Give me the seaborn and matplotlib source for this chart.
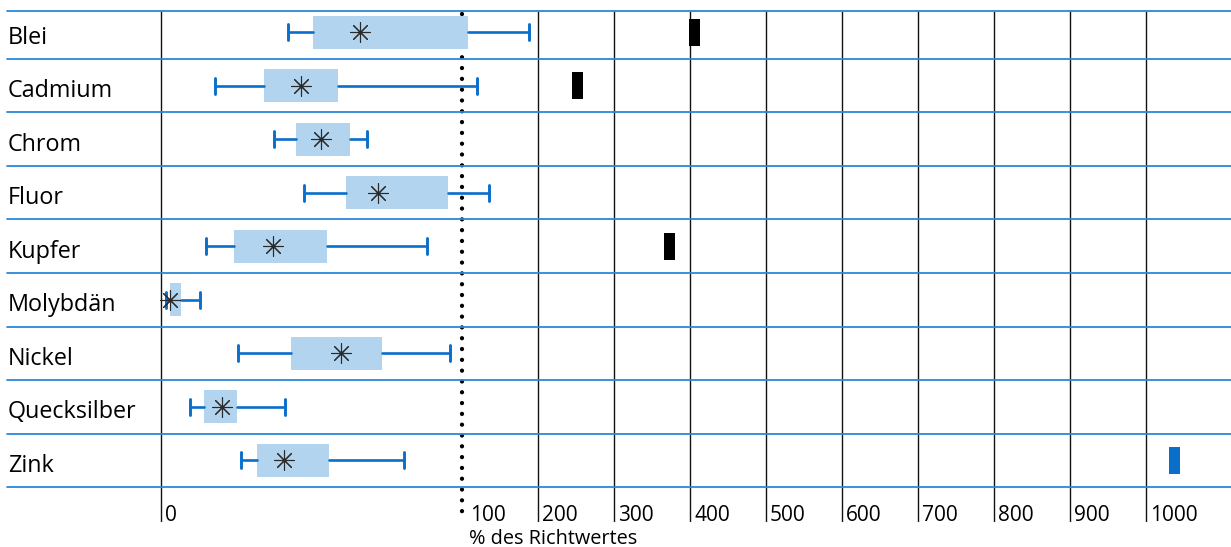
import numpy as np
import pandas as pd
import matplotlib
matplotlib.use("Agg")
import matplotlib.pyplot as plt
from matplotlib.path import Path
from matplotlib.transforms import ScaledTranslation
import seaborn as sns

# Box statistics per element, in % of the guide value
elements = ["Blei", "Cadmium", "Chrom", "Fluor", "Kupfer",
            "Molybdän", "Nickel", "Quecksilber", "Zink"]
whisker_low = [42, 18, 37.6, 47.5, 15, 1.5, 25.6, 9.6, 26.4]
quartile_1 = [50.4, 34.1, 44.8, 61.4, 24.2, 2.9, 43.1, 14.2, 31.8]
median = [66, 46.3, 53, 72, 37.2, 3.0, 59.7, 20.2, 40.8]
quartile_3 = [107, 58.7, 62.7, 95.2, 55.1, 6.5, 73.3, 25.2, 55.7]
whisker_high = [188, 120, 68.5, 135, 88.3, 12.9, 95.9, 41.2, 80.6]

# Single peak measurements
peak_elements = ["Blei", "Cadmium", "Kupfer", "Zink"]
peak_values = [406, 252, 373, 1037]

guide_value = 100
x_ticks = [0, 100, 200, 300, 400, 500, 600, 700, 800, 900, 1000]
x_label = "% des Richtwertes"

# Colours
GRID_BLUE = "#2b88d8"
WHISKER_BLUE = "#0a6ecb"
BOX_BLUE = "#b3d4ee"
STAR_GREY = "#2a2a2a"
TEXT = "#000000"
peak_palette = {"Blei": "black", "Cadmium": "black", "Kupfer": "black",
                "Zink": WHISKER_BLUE}

# Axis compressed above 100 %
K = 0.2525


def forward(x):
    x = np.asarray(x, dtype=float)
    return np.where(x <= 100, x, 100 + (x - 100) * K)


def inverse(t):
    t = np.asarray(t, dtype=float)
    return np.where(t <= 100, t, 100 + (t - 100) / K)


sns.set_theme(style="white")
plt.rcParams["font.family"] = ["Open Sans", "DejaVu Sans"]
plt.rcParams["text.color"] = TEXT

W, H, DPI = 1231, 547, 100
fig = plt.figure(figsize=(W / DPI, H / DPI), dpi=DPI)
ax_left, ax_right, ax_top, ax_bottom = 7, 1231, 11, 522
ax = fig.add_axes([ax_left / W, 1 - ax_bottom / H,
                   (ax_right - ax_left) / W, (ax_bottom - ax_top) / H])

ax.set_xscale("function", functions=(forward, inverse))
ax.set_xlim(-51.3, 1112)
top_line = -0.397
y_bottom = 9.154
ax.set_ylim(y_bottom, top_line)

pos = np.arange(len(elements))

# Row separators
for b in [top_line] + list(np.arange(len(elements)) + 0.5):
    ax.axhline(b, color=GRID_BLUE, lw=1.3, zorder=2, clip_on=False)

# Vertical reference lines
grid_x = [t for t in x_ticks if t != guide_value]
ax.vlines(grid_x, top_line, y_bottom, colors="#111111", lw=1.0, zorder=1)
ax.plot([guide_value, guide_value], [top_line + 0.06, y_bottom - 0.03],
        color="black", lw=3.1, linestyle=(0, (0.01, 2.5)),
        dash_capstyle="round", zorder=1)

# Boxes with whiskers
stats = [dict(label=e, whislo=lo, q1=a, med=m, q3=b, whishi=hi, fliers=[])
         for e, lo, a, m, b, hi in zip(elements, whisker_low, quartile_1,
                                        median, quartile_3, whisker_high)]
ax.bxp(stats, positions=pos, widths=0.62, orientation="horizontal",
       patch_artist=True, showfliers=False, manage_ticks=False,
       boxprops=dict(facecolor=BOX_BLUE, edgecolor="none", linewidth=0),
       whiskerprops=dict(color=WHISKER_BLUE, linewidth=1.9),
       capprops=dict(color=WHISKER_BLUE, linewidth=2.1),
       medianprops=dict(linewidth=0), capwidths=0.3)

# Median markers
df_med = pd.DataFrame({"element": elements, "median": median, "pos": pos})
sns.scatterplot(data=df_med, x="median", y="pos", marker=(8, 2, 0), s=200,
                color=STAR_GREY, linewidth=0.8, ax=ax, zorder=5, legend=False)

# Peak markers
rect = Path([(-0.2037, -0.5), (0.2037, -0.5), (0.2037, 0.5),
             (-0.2037, 0.5), (-0.2037, -0.5)],
            [Path.MOVETO, Path.LINETO, Path.LINETO, Path.LINETO, Path.CLOSEPOLY])
df_peak = pd.DataFrame({"element": peak_elements, "value": peak_values,
                        "pos": [elements.index(e) for e in peak_elements]})
sns.scatterplot(data=df_peak, x="value", y="pos", hue="element",
                palette=peak_palette, marker=rect, s=380, linewidth=0,
                ax=ax, zorder=5, legend=False)

# Axis text
ax.set_yticks(pos, elements)
ax.tick_params(axis="y", length=0, pad=-0.72, labelsize=16.8,
               labelcolor=TEXT)
for lab in ax.get_yticklabels():
    lab.set_ha("left")
    lab.set_transform(lab.get_transform() +
                      ScaledTranslation(0, -2.5 / DPI, fig.dpi_scale_trans))

ax.set_xticks(x_ticks, [str(t) for t in x_ticks])
ax.tick_params(axis="x", length=0, pad=-0.72, labelsize=15,
               labelcolor=TEXT)
for t, lab in zip(x_ticks, ax.get_xticklabels()):
    lab.set_ha("left")
    lab.set_va("baseline")
    dx = 8 if t == guide_value else 4
    lab.set_transform(lab.get_transform() +
                      ScaledTranslation(dx / DPI, 0, fig.dpi_scale_trans))

ax.set_xlabel(x_label, fontsize=14.3, ha="left", va="top", color=TEXT)
ax.xaxis.set_label_coords((469 - ax_left) / (ax_right - ax_left),
                          -(529 - ax_bottom) / (ax_bottom - ax_top))
ax.set_ylabel("")

for s in ax.spines.values():
    s.set_visible(False)
ax.grid(False)

fig.savefig("out.png", dpi=DPI)
